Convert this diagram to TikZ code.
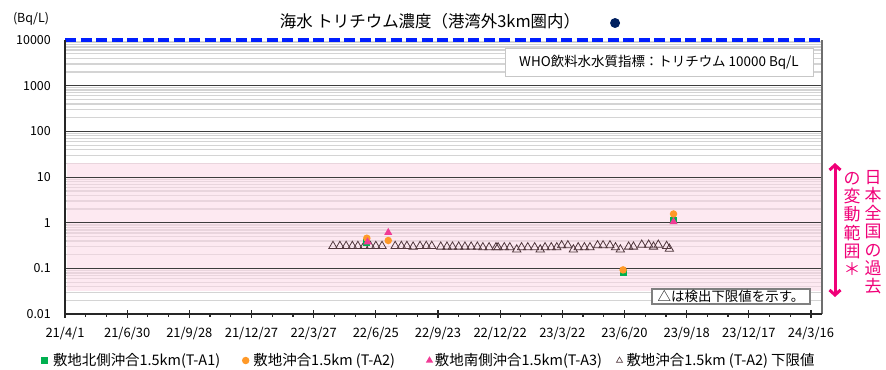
\documentclass[tikz,border=0pt]{standalone}
\usepackage{fontspec}
\setmainfont{Noto Sans CJK JP}
\usetikzlibrary{shapes.geometric, arrows.meta, positioning}

\definecolor{bandpink}{RGB}{251,215,229}
\definecolor{minorgray}{RGB}{212,212,212}
\definecolor{majorgray}{RGB}{60,60,60}
\definecolor{framegray}{RGB}{110,110,110}
\definecolor{whoblue}{RGB}{0,30,255}
\definecolor{navy}{RGB}{0,32,96}
\definecolor{ta1}{RGB}{0,176,80}
\definecolor{ta2}{RGB}{255,153,40}
\definecolor{ta3}{RGB}{240,60,150}
\definecolor{limline}{RGB}{80,55,60}
\definecolor{rangepink}{RGB}{240,0,120}

% days after 21/4/1 -> x, value (Bq/L) -> y
\newcommand\dayx[1]{65+0.6907*(#1)}
\newcommand\valy[1]{222.8-45.7*log10(#1)}

\tikzstyle{minorgrid} = [line width=1.3bp, draw=minorgray]
\tikzstyle{majorgrid} = [line width=1.1bp, draw=majorgray]
\tikzstyle{axisline} = [line width=1.2bp, draw=black!85]
\tikzstyle{wholine} = [line width=4bp, draw=whoblue, dash pattern=on 11bp off 4.5bp]
\tikzstyle{ylab} = [anchor=east, inner sep=0, font=\fontsize{12.5}{14}\selectfont]
\tikzstyle{xlab} = [inner sep=0, font=\fontsize{13}{15}\selectfont]
\tikzstyle{titletext} = [inner sep=0, outer sep=0, font=\fontsize{16.5}{18}\selectfont]
\tikzstyle{navydot} = [circle, fill=navy, minimum size=10bp, inner sep=0, outer sep=0]
\tikzstyle{whobox} = [rectangle, draw=black!22, fill=white, minimum width=308bp, minimum height=28bp, inner sep=0, font=\fontsize{13.5}{15}\selectfont]
\tikzstyle{ndbox} = [rectangle, draw=black!50, line width=2bp, fill=white, minimum width=158bp, minimum height=15bp, inner sep=0, font=\fontsize{13.5}{15}\selectfont]
\tikzstyle{vtext} = [anchor=north, align=center, inner sep=0, text=rangepink, font=\fontsize{17}{18.3}\selectfont]
\tikzstyle{rangearrow} = [line width=3bp, draw=rangepink, {Straight Barb[length=5bp,width=11bp]}-{Straight Barb[length=5bp,width=11bp]}]
\tikzstyle{sq} = [rectangle, fill=ta1, minimum size=7bp, inner sep=0, outer sep=0]
\tikzstyle{circ} = [circle, fill=ta2, minimum size=7.5bp, inner sep=0, outer sep=0]
\tikzstyle{tri} = [regular polygon, regular polygon sides=3, fill=ta3, minimum size=9.5bp, inner sep=0, outer sep=0]
\tikzstyle{limit} = [regular polygon, regular polygon sides=3, draw=limline, line width=0.8bp, minimum size=9.6bp, inner sep=0, outer sep=0]
\tikzstyle{legtext} = [inner sep=0, outer sep=0, font=\fontsize{14.5}{16}\selectfont]

\begin{document}
\begin{tikzpicture}[x=1bp, y=-1bp]
\useasboundingbox (0,0) rectangle (886,369);

% grid and band
\foreach \e in {-2,...,3}
  \foreach \k in {2,...,9}
    \draw[minorgrid] (65,{222.8-45.7*(\e+log10(\k))}) -- (822,{222.8-45.7*(\e+log10(\k))});
\fill[bandpink, fill opacity=0.55] (67,{\valy{20}}) rectangle (822,{\valy{0.032}});
\foreach \e in {-1,...,3}
  \draw[majorgrid] (65,{222.8-45.7*\e}) -- (822,{222.8-45.7*\e});
\draw[wholine] (65,40) -- (820,40);

% axes
\draw[line width=1.2bp, framegray] (822,40) -- (822,314);
\draw[axisline] (65,40) -- (65,314) -- (822,314);
\foreach \d in {30,60,...,1050}
  \draw[axisline] ({\dayx{\d}},314) -- ({\dayx{\d}},317);
\foreach \d in {0,90,...,1080}
  \draw[axisline] ({\dayx{\d}},310) -- ({\dayx{\d}},318);

\foreach \t [count=\i from 0] in {21/4/1,21/6/30,21/9/28,21/12/27,22/3/27,22/6/25,22/9/23,22/12/22,23/3/22,23/6/20,23/9/18,23/12/17,24/3/16}
  \node[xlab] (xl\i) at ({\dayx{90*\i}},334) {\t};
\foreach \t [count=\i from 0] in {10000,1000,100,10,1,0.1,0.01}
  \node[ylab] (yl\i) at (51,{40+45.7*\i}) {\t};
\node[ylab, anchor=center] (unit) at (31,19) {(Bq/L)};

\node[titletext] (title) at (430,21) {海水 トリチウム濃度（港湾外3km圏内）};
\node[navydot, right=30bp of title, yshift=-2bp] (titledot) {};

\node[whobox] (who) at (659,62) {WHO飲料水水質指標：トリチウム 10000 Bq/L};

% lower limits
\foreach \d/\v [count=\i] in {388/0.31,398/0.31,407/0.31,416/0.31,424/0.31,433/0.31,442/0.31,450/0.31,459/0.31,
    478/0.31,487/0.31,495/0.31,504/0.30,514/0.31,523/0.31,531/0.31,544/0.30,553/0.30,561/0.30,570/0.30,
    579/0.30,588/0.30,597/0.30,605/0.29,614/0.29,624/0.29,627/0.29,636/0.29,644/0.29,654/0.26,661/0.29,
    670/0.29,680/0.29,688/0.26,695/0.29,704/0.29,712/0.29,719/0.32,728/0.32,736/0.26,743/0.29,752/0.29,
    760/0.29,771/0.32,779/0.32,789/0.32,797/0.29,804/0.26,816/0.30,823/0.30,835/0.33,845/0.33,852/0.30,
    859/0.33,871/0.31,875/0.27}
  \node[limit] (lim\i) at ({\dayx{\d}},{\valy{\v}}) {};

% measured values
\foreach \d/\v [count=\i] in {437/0.37,808/0.08,881/1.1}
  \node[sq] (a\i) at ({\dayx{\d}},{\valy{\v}}) {};
\foreach \d/\v [count=\i] in {437/0.46,468/0.41,808/0.093,881/1.56}
  \node[circ] (b\i) at ({\dayx{\d}},{\valy{\v}}) {};
\foreach \d/\v [count=\i] in {438/0.38,468/0.61,881/1.05}
  \node[tri] (c\i) at ({\dayx{\d}},{\valy{\v}}) {};

\node[ndbox] (nd) at (731,296.5) {△は検出下限値を示す。};

% range of past values in Japan
\coordinate (rtop) at (835,163);
\coordinate (rbot) at (835,297);
\draw[rangearrow] (rtop) -- (rbot);
\node[vtext] (kakoR) at (873,170) {日\\本\\全\\国\\の\\過\\去};
\node[vtext] (kakoL) at (852,172) {の\\変\\動\\範\\囲\\＊};

% legend
\node[sq] (key1) at (44.5,360.5) {};
\node[legtext, right=5bp of key1] (leg1) {敷地北側沖合1.5km(T-A1)};
\node[circ] (key2) at (245.7,360.5) {};
\node[legtext, right=4bp of key2] (leg2) {敷地沖合1.5km (T-A2)};
\node[tri, minimum size=8.5bp] (key3) at (429.5,360.5) {};
\node[legtext, right=3bp of key3] (leg3) {敷地南側沖合1.5km(T-A3)};
\node[limit, minimum size=7bp, line width=0.6bp] (key4) at (619.5,360.5) {};
\node[legtext, right=5bp of key4] (leg4) {敷地沖合1.5km (T-A2) 下限値};
\end{tikzpicture}
\end{document}
